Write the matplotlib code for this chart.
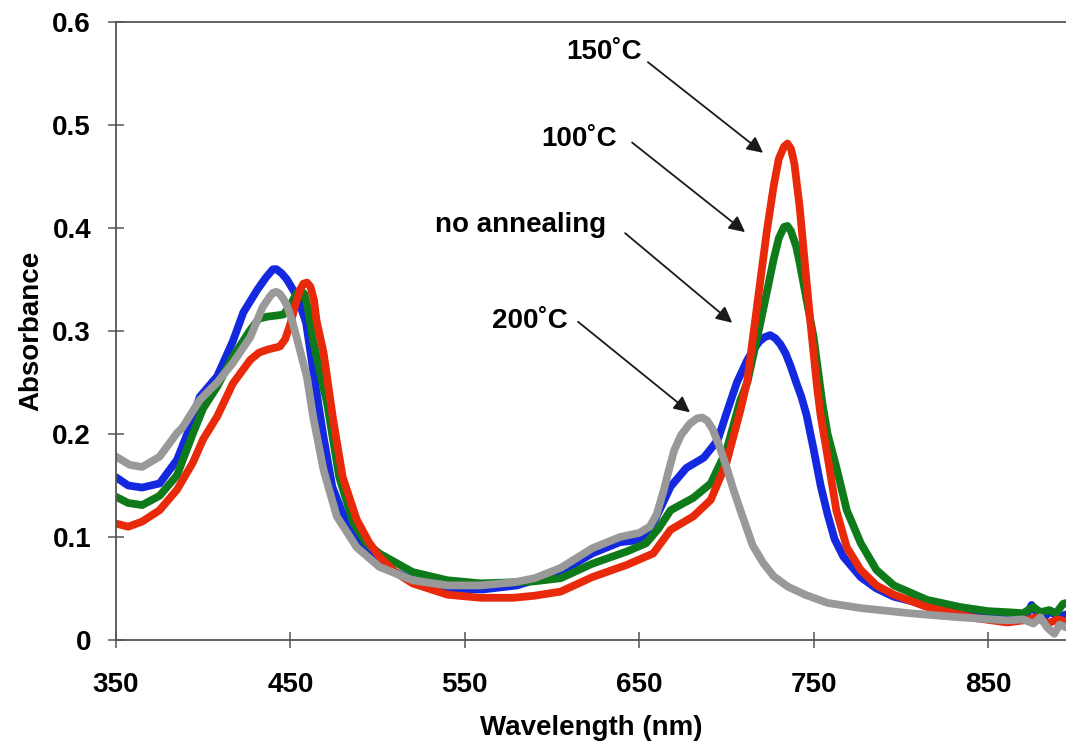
import matplotlib
matplotlib.use("Agg")
import matplotlib.pyplot as plt

# ---- data ----
wl_noann = [350, 357, 365, 375, 385, 392, 398, 408, 417, 423, 431, 436, 440, 442, 445, 448, 454, 459, 463, 469, 474,
            482, 492, 501, 510, 520, 540, 560, 580, 605, 623, 639, 650, 658, 668, 677, 687, 695, 700, 706, 712,
            716, 719, 722, 725, 728, 731, 734, 737, 740, 743, 746, 750, 754, 758, 762, 767, 777, 786, 796, 815,
            835, 853, 865, 872, 875, 878, 882, 886, 890, 895]
abs_noann = [0.158, 0.150, 0.148, 0.152, 0.175, 0.205, 0.236, 0.256, 0.290, 0.318, 0.340, 0.352, 0.360, 0.360,
             0.356, 0.350, 0.333, 0.308, 0.262, 0.197, 0.149, 0.114, 0.087, 0.075, 0.066, 0.058, 0.050, 0.049,
             0.053, 0.066, 0.084, 0.095, 0.097, 0.113, 0.149, 0.167, 0.177, 0.194, 0.220, 0.250, 0.272, 0.283,
             0.290, 0.294, 0.296, 0.293, 0.287, 0.278, 0.265, 0.250, 0.236, 0.218, 0.185, 0.150, 0.122, 0.098,
             0.081, 0.061, 0.050, 0.042, 0.034, 0.029, 0.026, 0.024, 0.024, 0.034, 0.026, 0.022, 0.028, 0.022,
             0.025]

wl_100 = [350, 357, 365, 375, 385, 394, 400, 408, 417, 427, 432, 437, 442, 446, 450, 453, 455.5, 458, 460, 463,
          467, 471, 478, 486, 493, 501, 520, 540, 559, 578, 590, 605, 623, 643, 654, 661, 668, 681, 691, 700,
          708, 712, 719, 727, 730, 733, 735, 737, 740, 742, 746, 750, 755, 758, 763, 769, 777, 786, 796, 815,
          834, 850, 861, 870, 876, 880, 885, 889, 893, 895]
abs_100 = [0.139, 0.133, 0.131, 0.140, 0.160, 0.200, 0.225, 0.246, 0.275, 0.301, 0.312, 0.314, 0.315, 0.316,
           0.325, 0.335, 0.340, 0.336, 0.322, 0.291, 0.260, 0.230, 0.158, 0.114, 0.095, 0.084, 0.066, 0.058,
           0.055, 0.056, 0.057, 0.060, 0.074, 0.086, 0.094, 0.108, 0.126, 0.138, 0.152, 0.184, 0.233, 0.250,
           0.304, 0.369, 0.390, 0.401, 0.402, 0.397, 0.382, 0.366, 0.330, 0.294, 0.230, 0.200, 0.168, 0.126,
           0.094, 0.068, 0.053, 0.039, 0.032, 0.028, 0.027, 0.026, 0.032, 0.027, 0.029, 0.026, 0.035, 0.036]

wl_150 = [350, 357, 365, 375, 385, 394, 400, 408, 417, 427, 432, 437, 444, 447, 450, 453, 455.5, 457.5, 459.5,
          461.5, 463.5, 465, 469, 474.5, 480, 488, 495, 501, 510, 520, 540, 559, 578, 590, 605, 623, 643, 658,
          668, 681, 691, 700, 708, 712, 719, 723, 727, 730, 733, 735, 737, 739, 742, 745, 748, 752, 754, 758,
          763, 769, 777, 786, 796, 815, 830, 844, 861, 870, 878, 884, 890, 895]
abs_150 = [0.113, 0.110, 0.115, 0.126, 0.146, 0.172, 0.195, 0.217, 0.249, 0.272, 0.279, 0.282, 0.285, 0.292,
           0.307, 0.326, 0.340, 0.346, 0.347, 0.343, 0.330, 0.310, 0.279, 0.214, 0.158, 0.117, 0.095, 0.081,
           0.066, 0.055, 0.044, 0.041, 0.041, 0.043, 0.047, 0.061, 0.073, 0.084, 0.107, 0.120, 0.136, 0.172,
           0.223, 0.252, 0.343, 0.395, 0.440, 0.467, 0.479, 0.482, 0.477, 0.462, 0.420, 0.365, 0.311, 0.245,
           0.218, 0.178, 0.126, 0.090, 0.068, 0.053, 0.044, 0.032, 0.026, 0.021, 0.017, 0.019, 0.022, 0.016,
           0.020, 0.018]

wl_200 = [350, 358, 365, 375, 385, 388, 398, 408, 417, 427, 434, 438, 440, 442, 444, 446, 448, 451, 454, 459.5,
          463, 469, 476.6, 488, 501, 520, 540, 559, 578, 590, 605, 623, 639, 650, 656, 660, 664, 667, 670, 674,
          679, 683, 686, 689, 692, 696, 700, 704, 708, 715, 721, 727, 735, 745, 758, 777, 805, 834, 861, 870,
          876, 880, 884, 888, 891, 895]
abs_200 = [0.178, 0.170, 0.168, 0.178, 0.201, 0.206, 0.233, 0.250, 0.269, 0.294, 0.323, 0.333, 0.337, 0.338,
           0.336, 0.331, 0.325, 0.310, 0.291, 0.255, 0.217, 0.165, 0.120, 0.090, 0.071, 0.058, 0.053, 0.053,
           0.056, 0.060, 0.070, 0.089, 0.100, 0.104, 0.110, 0.122, 0.145, 0.165, 0.184, 0.199, 0.210, 0.215,
           0.216, 0.213, 0.205, 0.188, 0.168, 0.146, 0.126, 0.092, 0.075, 0.062, 0.052, 0.044, 0.036, 0.031,
           0.026, 0.022, 0.019, 0.020, 0.016, 0.022, 0.012, 0.006, 0.015, 0.012]

x_ticks = [350, 450, 550, 650, 750, 850]
y_ticks = [0, 0.1, 0.2, 0.3, 0.4, 0.5, 0.6]
y_tick_labels = ["0", "0.1", "0.2", "0.3", "0.4", "0.5", "0.6"]

labels = ["150˚C", "100˚C", "no annealing", "200˚C"]
label_xy = [(651.6, 0.571), (637.3, 0.486), (631.0, 0.403), (609.2, 0.310)]
arrow_start = [(655.0, 0.561), (645.9, 0.483), (641.9, 0.395), (614.9, 0.309)]
arrow_tip = [(721.0, 0.473), (710.7, 0.396), (703.3, 0.308), (679.1, 0.221)]

plt.rcParams['font.family'] = ['Liberation Sans', 'DejaVu Sans']
plt.rcParams['font.weight'] = 'bold'

fig = plt.figure(figsize=(10.66, 7.47), dpi=100)
ax = fig.add_axes([116 / 1066, 1 - 640 / 747, 1 - 116 / 1066, (640 - 22) / 747])

lw = 5.6
kw = dict(lw=lw, solid_capstyle='round', solid_joinstyle='round')
ax.plot(wl_noann, abs_noann, color='#1428e0', **kw)
ax.plot(wl_100, abs_100, color='#0f7a1a', **kw)
ax.plot(wl_150, abs_150, color='#e82a0a', **kw)
ax.plot(wl_200, abs_200, color='#999999', **kw)

ax.set_xlim(350, 894.7)
ax.set_ylim(0, 0.6)
ax.set_xticks(x_ticks)
ax.set_yticks(y_ticks)
ax.set_yticklabels(y_tick_labels)

for s in ['left', 'bottom', 'top']:
    ax.spines[s].set_color('#555555')
    ax.spines[s].set_linewidth(1.3)
ax.spines['right'].set_visible(False)

ax.tick_params(axis='both', which='major', direction='inout', length=12, width=1.1,
               color='#555555', labelsize=20)
ax.tick_params(axis='x', pad=17)
ax.tick_params(axis='y', pad=12)

ax.set_xlabel('Wavelength (nm)', fontsize=20, fontweight='bold', labelpad=12)
ax.set_ylabel('Absorbance', fontsize=20, fontweight='bold', labelpad=6)

for txt, (tx, ty), (sx, sy), (ex, ey) in zip(labels, label_xy, arrow_start, arrow_tip):
    ax.text(tx, ty, txt, ha='right', va='center', fontsize=20, fontweight='bold')
    ax.annotate('', xy=(ex, ey), xytext=(sx, sy),
                arrowprops=dict(arrowstyle='-|>', color='#1a1a1a', lw=1.3,
                                mutation_scale=24, shrinkA=0, shrinkB=0))

fig.savefig('out.png', dpi=100)
